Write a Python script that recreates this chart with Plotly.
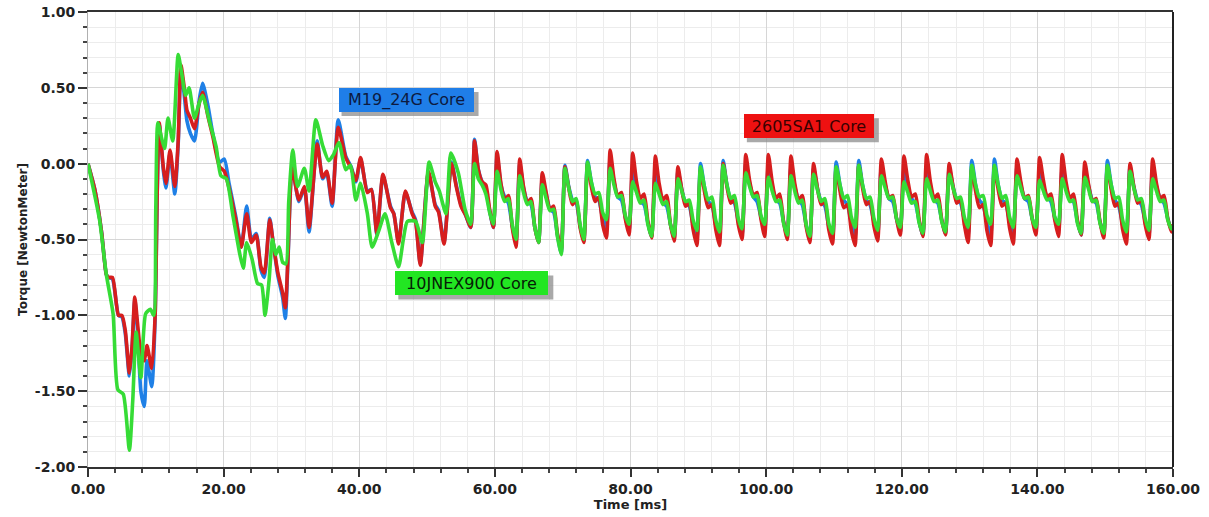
import plotly.graph_objects as go

# ---------------- data ----------------
# transient part, shared time base for red (2605SA1) and blue (M19_24G)
t_rb_tr = [0.0, 1.0, 2.0, 2.7, 3.0, 3.6, 4.5, 5.0, 5.5, 6.1, 6.5, 6.9, 7.3, 7.8, 8.3, 8.7, 9.4, 9.9,
           10.2, 10.5, 11.1, 11.5, 12.1, 12.8, 13.3, 13.7, 14.2, 14.6, 15.1, 15.7, 16.4, 16.9, 17.7,
           18.4, 19.4, 20.1, 20.8, 21.8, 22.6, 23.4, 24.1, 24.8, 25.5, 26.0, 26.8, 27.3, 28.0, 28.7,
           29.1, 29.5, 30.1, 31.1, 31.9, 32.6, 33.8, 34.6, 35.2, 36.0, 36.9, 38.0, 38.8, 39.5, 40.2,
           41.2, 41.8, 42.6, 43.5, 44.6, 45.1, 45.8, 46.8, 47.8, 48.3, 49.0, 50.2, 51.2, 51.7, 52.5,
           53.6, 54.3, 55.0, 55.7, 56.44]
red_tr = [0.0, -0.17, -0.45, -0.73, -0.75, -0.75, -1.0, -1.0, -1.1, -1.38, -1.2, -0.88, -1.05, -1.25,
          -1.3, -1.2, -1.35, -1.0, -0.2, 0.27, -0.02, -0.13, 0.09, -0.15, 0.15, 0.65, 0.5, 0.35, 0.3,
          0.23, 0.4, 0.47, 0.31, 0.18, -0.02, -0.05, -0.16, -0.37, -0.55, -0.33, -0.52, -0.47, -0.68,
          -0.72, -0.37, -0.52, -0.72, -0.85, -0.95, -0.6, -0.03, -0.24, -0.15, -0.42, 0.13, -0.09,
          -0.05, -0.26, 0.24, 0.04, -0.03, -0.11, 0.04, -0.19, -0.17, -0.46, -0.07, -0.29, -0.33,
          -0.53, -0.18, -0.33, -0.38, -0.67, -0.05, -0.28, -0.32, -0.53, 0.0, -0.15, -0.28, -0.34, -0.42]
blue_tr = [0.0, -0.17, -0.45, -0.73, -0.75, -0.76, -1.0, -1.01, -1.12, -1.40, -1.22, -0.90, -1.10,
           -1.50, -1.60, -1.30, -1.47, -1.02, -0.2, 0.26, -0.04, -0.16, 0.07, -0.20, 0.13, 0.62, 0.45,
           0.28, 0.20, 0.15, 0.42, 0.53, 0.38, 0.20, 0.01, 0.03, -0.13, -0.35, -0.55, -0.28, -0.50,
           -0.46, -0.70, -0.75, -0.36, -0.52, -0.74, -0.88, -1.02, -0.62, -0.02, -0.25, -0.16, -0.45,
           0.15, -0.10, -0.06, -0.28, 0.29, 0.05, -0.02, -0.12, 0.03, -0.18, -0.17, -0.47, -0.08,
           -0.28, -0.33, -0.52, -0.19, -0.32, -0.37, -0.66, -0.06, -0.27, -0.31, -0.52, 0.01, -0.14,
           -0.27, -0.34, -0.42]
# transient part of green (10JNEX900)
t_g_tr = [0.0, 1.7, 2.7, 3.7, 4.4, 5.2, 6.1, 6.6, 7.1, 7.8, 8.5, 9.2, 9.7, 10.0, 10.3, 10.9, 11.3,
          11.8, 12.5, 13.3, 13.8, 14.4, 14.9, 15.7, 16.4, 16.9, 17.9, 18.9, 19.6, 20.4, 21.4, 22.4,
          22.9, 23.4, 24.2, 25.0, 25.6, 26.1, 26.7, 27.2, 27.7, 28.2, 28.7, 29.2, 29.6, 30.2, 30.9,
          31.9, 32.6, 33.6, 34.6, 35.5, 36.2, 37.0, 38.0, 38.7, 39.5, 40.2, 41.2, 41.9, 42.9, 43.8,
          44.8, 45.8, 46.5, 47.1, 48.3, 49.3, 50.3, 51.2, 51.8, 52.8, 53.5, 54.6, 55.6, 56.44]
green_tr = [0.0, -0.37, -0.73, -0.99, -1.49, -1.52, -1.89, -1.56, -1.11, -1.41, -0.99, -0.96, -1.0,
            -0.29, 0.27, 0.16, 0.10, 0.30, 0.15, 0.72, 0.60, 0.45, 0.50, 0.30, 0.40, 0.45, 0.28, 0.11,
            -0.08, -0.10, -0.35, -0.60, -0.69, -0.52, -0.63, -0.79, -0.80, -1.0, -0.77, -0.50, -0.60,
            -0.55, -0.65, -0.66, -0.25, 0.09, -0.15, -0.03, -0.18, 0.29, 0.12, 0.02, 0.06, 0.14,
            -0.04, -0.01, -0.24, -0.13, -0.33, -0.55, -0.44, -0.33, -0.52, -0.68, -0.50, -0.38,
            -0.38, -0.52, 0.01, -0.12, -0.18, -0.33, 0.07, -0.06, -0.30, -0.40]

# steady ripple part, shared time base
t_ss = [
    57.00, 57.56, 58.11, 58.67, 59.22, 59.78,
    60.33, 60.89, 61.44, 62.00, 62.56, 63.11,
    63.67, 64.22, 64.78, 65.33, 65.89, 66.44,
    67.00, 67.56, 68.11, 68.67, 69.22, 69.78,
    70.33, 70.89, 71.44, 72.00, 72.56, 73.11,
    73.67, 74.22, 74.78, 75.33, 75.89, 76.44,
    77.00, 77.56, 78.11, 78.67, 79.22, 79.78,
    80.33, 80.89, 81.44, 82.00, 82.56, 83.11,
    83.67, 84.22, 84.78, 85.33, 85.89, 86.44,
    87.00, 87.56, 88.11, 88.67, 89.22, 89.78,
    90.33, 90.89, 91.44, 92.00, 92.56, 93.11,
    93.67, 94.22, 94.78, 95.33, 95.89, 96.44,
    97.00, 97.56, 98.11, 98.67, 99.22, 99.78,
    100.33, 100.89, 101.44, 102.00, 102.56, 103.11,
    103.67, 104.22, 104.78, 105.33, 105.89, 106.44,
    107.00, 107.56, 108.11, 108.67, 109.22, 109.78,
    110.33, 110.89, 111.44, 112.00, 112.56, 113.11,
    113.67, 114.22, 114.78, 115.33, 115.89, 116.44,
    117.00, 117.56, 118.11, 118.67, 119.22, 119.78,
    120.33, 120.89, 121.44, 122.00, 122.56, 123.11,
    123.67, 124.22, 124.78, 125.33, 125.89, 126.44,
    127.00, 127.56, 128.11, 128.67, 129.22, 129.78,
    130.33, 130.89, 131.44, 132.00, 132.56, 133.11,
    133.67, 134.22, 134.78, 135.33, 135.89, 136.44,
    137.00, 137.56, 138.11, 138.67, 139.22, 139.78,
    140.33, 140.89, 141.44, 142.00, 142.56, 143.11,
    143.67, 144.22, 144.78, 145.33, 145.89, 146.44,
    147.00, 147.56, 148.11, 148.67, 149.22, 149.78,
    150.33, 150.89, 151.44, 152.00, 152.56, 153.11,
    153.67, 154.22, 154.78, 155.33, 155.89, 156.44,
    157.00, 157.56, 158.11, 158.67, 159.22, 159.78,
    160.00]

red_ss = [
    0.15, -0.04, -0.12, -0.14, -0.30, -0.42,
    0.08, -0.13, -0.24, -0.21, -0.42, -0.55,
    0.03, -0.15, -0.26, -0.23, -0.42, -0.52,
    -0.06, -0.19, -0.30, -0.28, -0.46, -0.57,
    -0.02, -0.16, -0.27, -0.24, -0.42, -0.52,
    0.00, -0.15, -0.25, -0.22, -0.40, -0.49,
    0.09, -0.10, -0.21, -0.19, -0.36, -0.47,
    0.07, -0.12, -0.23, -0.20, -0.38, -0.49,
    0.05, -0.13, -0.24, -0.21, -0.40, -0.51,
    -0.02, -0.17, -0.28, -0.26, -0.43, -0.54,
    -0.04, -0.18, -0.29, -0.27, -0.43, -0.54,
    0.00, -0.15, -0.26, -0.24, -0.40, -0.50,
    0.06, -0.11, -0.21, -0.19, -0.36, -0.48,
    0.06, -0.12, -0.23, -0.20, -0.38, -0.50,
    0.05, -0.13, -0.24, -0.21, -0.41, -0.52,
    0.00, -0.16, -0.27, -0.25, -0.43, -0.53,
    -0.03, -0.18, -0.29, -0.27, -0.44, -0.54,
    -0.01, -0.16, -0.27, -0.25, -0.41, -0.51,
    0.03, -0.12, -0.23, -0.21, -0.36, -0.47,
    0.05, -0.11, -0.22, -0.20, -0.37, -0.48,
    0.06, -0.12, -0.23, -0.20, -0.37, -0.47,
    0.00, -0.15, -0.26, -0.24, -0.40, -0.52,
    -0.03, -0.18, -0.29, -0.27, -0.44, -0.54,
    -0.02, -0.17, -0.28, -0.26, -0.42, -0.53,
    0.03, -0.12, -0.23, -0.21, -0.36, -0.47,
    0.04, -0.11, -0.22, -0.20, -0.37, -0.48,
    0.06, -0.12, -0.23, -0.20, -0.37, -0.47,
    0.01, -0.14, -0.25, -0.23, -0.38, -0.49,
    -0.02, -0.17, -0.28, -0.26, -0.43, -0.53,
    0.00, -0.15, -0.26, -0.24, -0.40, -0.50,
    0.03, -0.13, -0.23, -0.21, -0.36, -0.45,
    -0.40]

green_ss = [
    0.00, -0.10, -0.14, -0.20, -0.32, -0.40,
    -0.05, -0.17, -0.25, -0.23, -0.40, -0.50,
    -0.08, -0.19, -0.27, -0.25, -0.42, -0.52,
    -0.14, -0.23, -0.31, -0.30, -0.48, -0.60,
    -0.03, -0.16, -0.25, -0.23, -0.40, -0.50,
    0.01, -0.12, -0.20, -0.19, -0.32, -0.37,
    -0.03, -0.14, -0.22, -0.21, -0.34, -0.40,
    -0.12, -0.19, -0.26, -0.24, -0.40, -0.48,
    -0.13, -0.20, -0.27, -0.25, -0.40, -0.48,
    -0.10, -0.18, -0.25, -0.24, -0.37, -0.44,
    -0.02, -0.15, -0.24, -0.22, -0.37, -0.45,
    -0.01, -0.14, -0.23, -0.21, -0.36, -0.43,
    -0.06, -0.15, -0.22, -0.21, -0.34, -0.40,
    -0.09, -0.18, -0.25, -0.24, -0.39, -0.47,
    -0.08, -0.18, -0.26, -0.24, -0.40, -0.48,
    -0.07, -0.17, -0.25, -0.23, -0.39, -0.46,
    -0.02, -0.14, -0.23, -0.21, -0.35, -0.42,
    -0.01, -0.14, -0.23, -0.22, -0.36, -0.44,
    -0.08, -0.16, -0.23, -0.22, -0.36, -0.42,
    -0.12, -0.19, -0.26, -0.25, -0.39, -0.46,
    -0.10, -0.18, -0.25, -0.24, -0.38, -0.45,
    -0.07, -0.16, -0.23, -0.22, -0.35, -0.42,
    -0.01, -0.14, -0.22, -0.21, -0.34, -0.40,
    -0.01, -0.14, -0.23, -0.21, -0.35, -0.42,
    -0.08, -0.16, -0.23, -0.22, -0.36, -0.42,
    -0.11, -0.18, -0.24, -0.23, -0.35, -0.40,
    -0.10, -0.18, -0.25, -0.24, -0.39, -0.46,
    -0.09, -0.17, -0.25, -0.24, -0.39, -0.46,
    -0.01, -0.14, -0.23, -0.22, -0.37, -0.45,
    -0.05, -0.16, -0.24, -0.23, -0.36, -0.44,
    -0.10, -0.18, -0.25, -0.24, -0.37, -0.43,
    -0.41]

blue_ss = [
    0.16, -0.04, -0.12, -0.17, -0.31, -0.42,
    0.05, -0.14, -0.22, -0.26, -0.41, -0.52,
    0.00, -0.16, -0.25, -0.27, -0.42, -0.52,
    -0.10, -0.20, -0.30, -0.32, -0.47, -0.59,
    -0.01, -0.15, -0.24, -0.26, -0.41, -0.51,
    0.02, -0.12, -0.22, -0.24, -0.36, -0.43,
    0.03, -0.12, -0.22, -0.24, -0.35, -0.44,
    -0.03, -0.16, -0.25, -0.27, -0.39, -0.48,
    -0.04, -0.17, -0.26, -0.28, -0.40, -0.49,
    -0.05, -0.17, -0.26, -0.28, -0.40, -0.49,
    0.00, -0.15, -0.25, -0.27, -0.40, -0.49,
    0.02, -0.14, -0.24, -0.26, -0.38, -0.47,
    0.00, -0.13, -0.22, -0.25, -0.35, -0.44,
    -0.02, -0.15, -0.24, -0.26, -0.38, -0.48,
    -0.02, -0.15, -0.24, -0.27, -0.40, -0.50,
    -0.03, -0.16, -0.25, -0.28, -0.41, -0.50,
    0.01, -0.14, -0.24, -0.27, -0.39, -0.48,
    0.02, -0.14, -0.24, -0.27, -0.38, -0.47,
    -0.02, -0.14, -0.23, -0.25, -0.36, -0.45,
    -0.04, -0.15, -0.23, -0.26, -0.38, -0.47,
    -0.03, -0.15, -0.24, -0.26, -0.37, -0.46,
    -0.03, -0.15, -0.24, -0.26, -0.37, -0.47,
    0.02, -0.14, -0.24, -0.27, -0.39, -0.47,
    0.03, -0.14, -0.24, -0.26, -0.38, -0.47,
    -0.02, -0.14, -0.23, -0.25, -0.36, -0.44,
    -0.04, -0.15, -0.22, -0.25, -0.36, -0.44,
    -0.03, -0.15, -0.23, -0.25, -0.38, -0.47,
    -0.04, -0.15, -0.24, -0.26, -0.38, -0.47,
    0.02, -0.14, -0.24, -0.28, -0.40, -0.49,
    -0.02, -0.15, -0.24, -0.27, -0.38, -0.47,
    -0.04, -0.15, -0.23, -0.26, -0.36, -0.44,
    -0.41]

series_names = ["M19_24G Core", "2605SA1 Core", "10JNEX900 Core"]
x_tick_vals = [0, 20, 40, 60, 80, 100, 120, 140, 160]
x_tick_text = ["0.00", "20.00", "40.00", "60.00", "80.00", "100.00", "120.00", "140.00", "160.00"]
y_tick_vals = [1.0, 0.5, 0.0, -0.5, -1.0, -1.5, -2.0]
y_tick_text = ["1.00", "0.50", "0.00", "-0.50", "-1.00", "-1.50", "-2.00"]

# ---------------- figure ----------------
BLUE = "#1f80e6"
RED = "#d61e1e"
GREEN = "#36dc36"
LW = 3.6

fig = go.Figure()
fig.add_trace(go.Scatter(x=t_rb_tr + t_ss, y=blue_tr + blue_ss, mode="lines",
                         line=dict(color=BLUE, width=LW, shape="spline", smoothing=0.6),
                         name=series_names[0]))
fig.add_trace(go.Scatter(x=t_rb_tr + t_ss, y=red_tr + red_ss, mode="lines",
                         line=dict(color=RED, width=LW, shape="spline", smoothing=0.6),
                         name=series_names[1]))
fig.add_trace(go.Scatter(x=t_g_tr + t_ss, y=green_tr + green_ss, mode="lines",
                         line=dict(color=GREEN, width=LW, shape="spline", smoothing=0.6),
                         name=series_names[2]))

tick_font = dict(family="DejaVu Sans", size=14, color="#222222", weight="bold")

fig.update_layout(
    width=1209, height=517,
    margin=dict(l=88, r=36, t=12, b=50, autoexpand=False),
    paper_bgcolor="white", plot_bgcolor="white",
    showlegend=False,
    hovermode=False,
    xaxis=dict(
        range=[0, 160], tickmode="array", tickvals=x_tick_vals, ticktext=x_tick_text,
        ticks="outside", ticklen=8, tickwidth=1.5, tickcolor="#333333",
        tickfont=tick_font, automargin=False, ticklabeloverflow="allow",
        showgrid=True, gridcolor="#d6d6d6", gridwidth=1,
        showline=True, linecolor="#333333", linewidth=1.5, mirror=True,
        zeroline=False,
        minor=dict(dtick=4, tick0=0, ticks="outside", ticklen=4, tickcolor="#444444",
                   showgrid=True, gridcolor="#ececec", gridwidth=1),
        title=dict(text="Time [ms]", font=dict(family="DejaVu Sans", size=13, color="#222222",
                                               weight="bold"), standoff=4),
    ),
    yaxis=dict(
        range=[-2, 1], tickmode="array", tickvals=y_tick_vals, ticktext=y_tick_text,
        ticks="outside", ticklen=9, tickwidth=1.5, tickcolor="#333333",
        tickfont=tick_font, automargin=False, ticklabeloverflow="allow",
        showgrid=True, gridcolor="#d6d6d6", gridwidth=1,
        showline=True, linecolor="#b0b0b0", linewidth=1,
        zeroline=False,
        minor=dict(dtick=0.1, tick0=0, ticks="outside", ticklen=4, tickcolor="#444444",
                   showgrid=True, gridcolor="#ececec", gridwidth=1),
        title=dict(text="Torque [NewtonMeter]", font=dict(family="DejaVu Sans", size=12,
                                                          color="#222222", weight="bold"),
                   standoff=4),
    ),
)

# right-hand frame line
fig.add_shape(type="line", xref="paper", yref="paper", x0=1, x1=1, y0=0, y1=1,
              line=dict(color="#222222", width=2))

label_font = dict(family="DejaVu Sans", size=16)
boxes = [
    # text, x, y, inner width, fill, text colour
    (series_names[0], 46.9, 0.42, 131, "#1f7ee8", "#0d1a40"),
    (series_names[1], 106.3, 0.246, 126, "#ee1111", "#3a0000"),
    (series_names[2], 56.6, -0.79, 149, "#22e622", "#062006"),
]
for text, bx, by, bw, fill, tc in boxes:
    half_w = bw / 2 + 3
    # drop shadow of the label box
    fig.add_shape(type="rect", xref="x", yref="y", xsizemode="pixel", ysizemode="pixel",
                  xanchor=bx, yanchor=by, x0=-half_w + 4, x1=half_w + 4, y0=-12 - 4, y1=12 - 4,
                  fillcolor="rgba(140,140,140,0.75)", line=dict(width=0), layer="above")
    fig.add_annotation(x=bx, y=by, xref="x", yref="y", text=text, showarrow=False,
                       width=bw, height=20, borderpad=1, borderwidth=1,
                       bgcolor=fill, bordercolor=fill,
                       font=dict(color=tc, **label_font))

# remove the default page margin so the figure fills the window exactly
fig.write_html("out.html", config={"displayModeBar": False},
               post_script="document.body.style.margin='0';")
